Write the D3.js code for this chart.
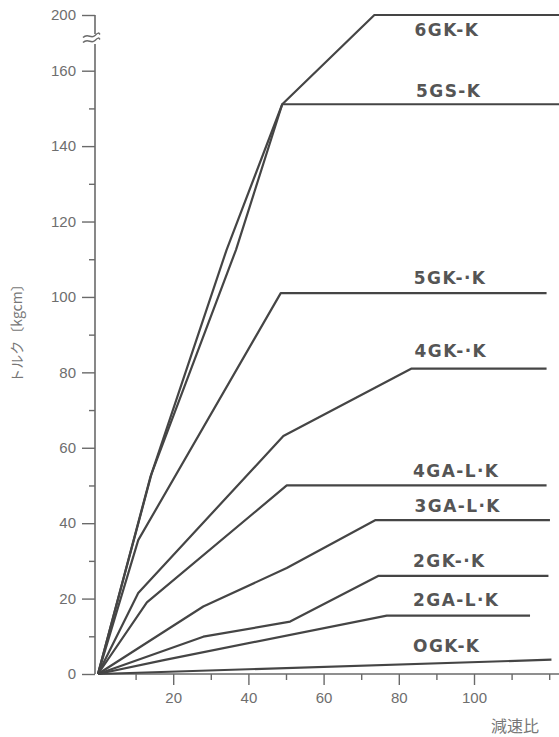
<!DOCTYPE html>
<html>
<head>
<meta charset="utf-8">
<script src="https://cdn.jsdelivr.net/npm/d3@7.9.0/dist/d3.min.js"></script>
<style>
  body { margin: 0; background: #fff; }
  svg { display: block; }
  .tick text { font-family: "Liberation Sans", Arial, sans-serif; font-size: 15px; fill: #6e6e6e; }
  .series-label { font-family: "DejaVu Sans", sans-serif; font-weight: bold; font-size: 17px; fill: #555; letter-spacing: 1.4px; }
</style>
</head>
<body>
<svg width="559" height="737"></svg>
<script>
// gear ratio vs. torque [kgcm] readings, [ratio, torque]
const seriesNames = ['6GK-K', '5GS-K', '5GK-·K', '4GK-·K', '4GA-L·K', '3GA-L·K', '2GK-·K', '2GA-L·K', 'OGK-K'];
const gk6 = [[0, 0], [14.3, 53.3], [34.2, 112.5], [49, 151.1], [58.2, 160], [73.5, 200], [123, 200]];
const gs5 = [[0, 0], [14, 52.5], [36.7, 112.5], [49, 151.1], [123, 151.1]];
const gk5 = [[0, 0], [10.7, 35.5], [48.6, 101], [119.3, 101]];
const gk4 = [[0, 0], [10.7, 21.5], [49.3, 63.1], [83.4, 81], [119.3, 81]];
const ga4 = [[0, 0], [13, 19], [50.2, 50], [119.3, 50]];
const ga3 = [[0, 0], [28, 17.9], [50.2, 28.1], [73.7, 40.8], [120.2, 40.8]];
const gk2 = [[0, 0], [28, 9.9], [51.1, 13.9], [74.5, 26], [119.8, 26]];
const ga2 = [[0, 0], [17.5, 3.7], [76.8, 15.5], [114.9, 15.5]];
const gk0 = [[0, 0], [120.6, 3.8]];
const seriesValues = [gk6, gs5, gk5, gk4, ga4, ga3, gk2, ga2, gk0];

// label anchor [ratio, torque] (left edge, baseline)
const labelPos = [[84.2, 185], [84.6, 153], [84, 103.5], [84.2, 84], [83.8, 52.2], [84.2, 43], [83.8, 28.5], [83.8, 18], [83.8, 5.8]];

const xMajor = [20, 40, 60, 80, 100];
const xMinor = [10, 30, 50, 70, 90, 110, 120];
const yMajor = [0, 20, 40, 60, 80, 100, 120, 140, 160, 200];
const yMinor = [10, 30, 50, 70, 90, 110, 130, 150];

const svg = d3.select('svg');
const ink = '#454545';
const axisInk = '#6a6a6a';

const x = d3.scaleLinear().domain([0, 120]).range([98, 549.2]);
// broken axis: 160 -> 200 compressed
const y = d3.scaleLinear().domain([0, 160, 200]).range([674, 70.7, 15]);

// x axis
const xAxis = svg.append('g').attr('transform', `translate(0,${y(0)})`);
xAxis.call(d3.axisBottom(x).tickValues(xMajor).tickSize(11).tickPadding(7).tickFormat(d3.format('d')));
xAxis.append('g').call(d3.axisBottom(x).tickValues(xMinor).tickSize(6).tickFormat(''));
xAxis.selectAll('.domain').remove();
xAxis.selectAll('line').attr('stroke', axisInk).attr('stroke-width', 1.4);
xAxis.append('line').attr('x1', x(0)).attr('x2', 559).attr('stroke', axisInk).attr('stroke-width', 1.6);

// y axis
const axisX = 95;
const yAxis = svg.append('g').attr('transform', `translate(${axisX},0)`);
yAxis.call(d3.axisLeft(y).tickValues(yMajor).tickSize(13).tickPadding(6).tickFormat(d3.format('d')));
yAxis.append('g').call(d3.axisLeft(y).tickValues(yMinor).tickSize(6).tickFormat(''));
yAxis.selectAll('.domain').remove();
yAxis.selectAll('line').attr('stroke', axisInk).attr('stroke-width', 1.4);
yAxis.append('line').attr('y1', y(0)).attr('y2', 44).attr('stroke', axisInk).attr('stroke-width', 1.6);
yAxis.append('line').attr('y1', y(200)).attr('y2', 34).attr('stroke', axisInk).attr('stroke-width', 1.6);
// break mark
[35.5, 40.5].forEach(b => {
  yAxis.append('path')
    .attr('d', `M-12,${b + 2} C-7,${b - 3} -4,${b + 4} 0,${b} S4,${b - 2} 5,${b - 1}`)
    .attr('fill', 'none').attr('stroke', axisInk).attr('stroke-width', 1.5);
});

// axis titles
svg.append('text')
  .attr('transform', 'translate(22,330) rotate(-90)')
  .attr('text-anchor', 'middle')
  .style('font-family', '"Noto Sans CJK JP", sans-serif').style('font-size', '14px').style('fill', '#777')
  .text('トルク〔kgcm〕');
svg.append('text')
  .attr('x', 515).attr('y', 732)
  .attr('text-anchor', 'middle')
  .style('font-family', '"Noto Sans CJK JP", sans-serif').style('font-size', '16px').style('fill', '#777')
  .text('減速比');

// lines
const line = d3.line().x(d => x(d[0])).y(d => y(d[1]));
seriesValues.forEach(s => {
  svg.append('path')
    .attr('d', line(s))
    .attr('fill', 'none')
    .attr('stroke', ink)
    .attr('stroke-width', 2.2)
    .attr('stroke-linejoin', 'round');
});

seriesNames.forEach((name, i) => {
  svg.append('text')
    .attr('class', 'series-label')
    .attr('x', x(labelPos[i][0]))
    .attr('y', y(labelPos[i][1]))
    .text(name);
});
</script>
</body>
</html>
